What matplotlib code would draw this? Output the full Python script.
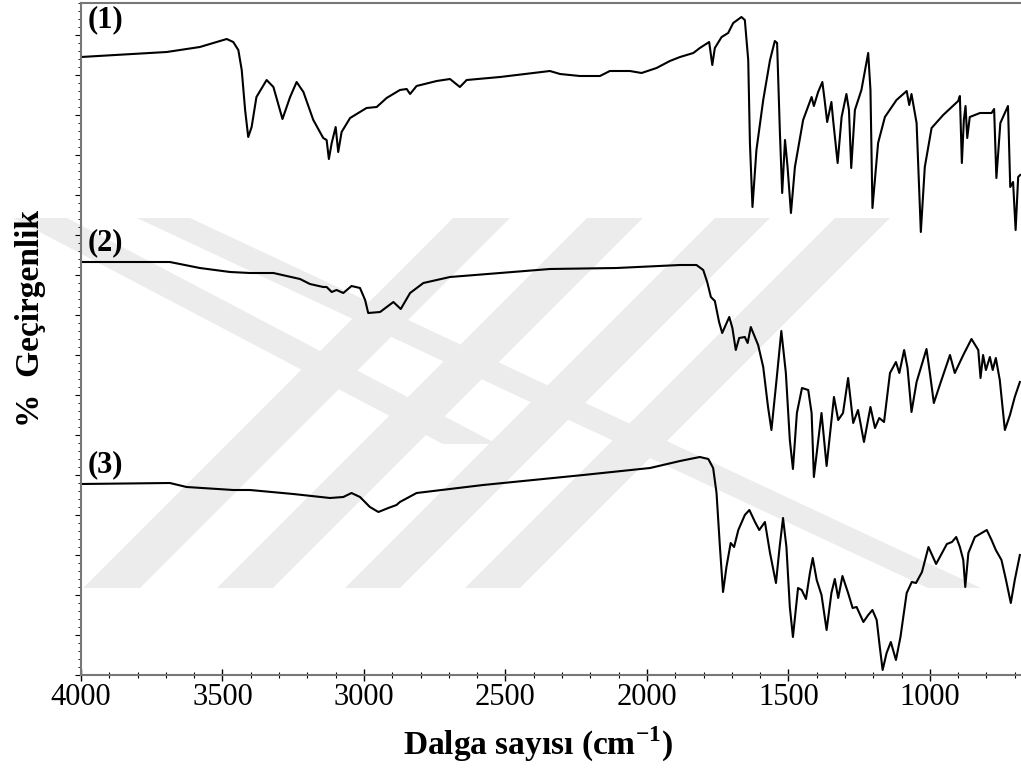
import numpy as np
import matplotlib
matplotlib.use("Agg")
import matplotlib.pyplot as plt
from matplotlib.ticker import MultipleLocator
from matplotlib.patches import Polygon

### FT-IR spectra of three samples, stacked with an offset.
### Values (offset transmittance, arbitrary units).

plt.rcParams['font.family'] = ['Liberation Serif', 'DejaVu Serif']
plt.rcParams['mathtext.fontset'] = 'custom'
plt.rcParams['mathtext.rm'] = 'Liberation Serif'
plt.rcParams['mathtext.bf'] = 'Liberation Serif:bold'

#### Spectrum (1) ####
wn1 = [4000, 3697, 3580, 3485, 3462, 3444, 3432, 3420, 3409, 3397, 3380, 3344,
       3320, 3288, 3261, 3238, 3214, 3179, 3144, 3132, 3124, 3114, 3100, 3091,
       3079, 3049, 2991, 2955, 2920, 2873, 2849, 2837, 2814, 2743, 2696, 2661,
       2637, 2519, 2343, 2307, 2237, 2166, 2131, 2060, 2019, 1966, 1919, 1883,
       1836, 1813, 1780, 1769, 1760, 1736, 1713, 1695, 1666, 1654, 1642, 1636,
       1627, 1613, 1589, 1565, 1548, 1540, 1530, 1522, 1512, 1503, 1491, 1477,
       1448, 1418, 1410, 1395, 1380, 1372, 1363, 1348, 1342, 1326, 1312, 1295,
       1286, 1278, 1265, 1242, 1218, 1210, 1203, 1183, 1159, 1118, 1082, 1073,
       1065, 1047, 1032, 1018, 994, 953, 900, 894, 887, 880, 874, 868, 859, 823,
       782, 773, 765, 751, 724, 716, 706, 697, 688, 681]
t1 = [618, 623, 628, 636, 633, 625, 605, 565, 538, 548, 578, 595,
      588, 556, 578, 593, 583, 555, 537, 535, 516, 532, 548, 523,
      543, 557, 567, 568, 577, 585, 586, 581, 589, 594, 596, 588,
      595, 598, 604, 601, 599, 599, 604, 604, 602, 607, 614, 618,
      622, 627, 633, 610, 627, 638, 642, 652, 658, 655, 615, 532,
      468, 525, 575, 615, 634, 632, 542, 482, 535, 508, 462, 508,
      555, 578, 569, 583, 593, 575, 553, 573, 555, 512, 558, 581,
      565, 507, 565, 585, 622, 585, 467, 532, 558, 575, 584, 570,
      581, 552, 443, 508, 547, 560, 574, 579, 512, 555, 569, 537, 558, 562,
      562, 566, 497, 552, 569, 488, 493, 445, 498, 500]

#### Spectrum (2) ####
wn2 = [4000, 3686, 3580, 3473, 3403, 3320, 3226, 3191, 3144, 3132, 3114, 3097,
       3073, 3044, 3014, 2996, 2985, 2943, 2896, 2870, 2837, 2790, 2696, 2519,
       2343, 2107, 1883, 1825, 1801, 1787, 1774, 1760, 1745, 1734, 1709, 1698,
       1686, 1674, 1654, 1644, 1633, 1607, 1589, 1572, 1560, 1542, 1525, 1509,
       1495, 1484, 1470, 1452, 1430, 1418, 1410, 1383, 1365, 1339, 1324, 1307,
       1289, 1271, 1254, 1233, 1210, 1194, 1179, 1162, 1141, 1120, 1108, 1091,
       1079, 1065, 1047, 1012, 1000, 986, 965, 929, 912, 882, 853, 829, 821,
       812, 802, 788, 778, 767, 753, 735, 717, 700, 682]
t2 = [413, 413, 407, 403, 402, 402, 396, 391, 388, 388, 383, 385,
      382, 389, 387, 375, 362, 363, 373, 366, 382, 392, 398, 402,
      406, 407, 410, 410, 405, 393, 378, 374, 353, 342, 358, 347,
      325, 337, 338, 332, 348, 330, 308, 268, 245, 295, 344, 302,
      235, 206, 262, 287, 285, 262, 198, 262, 209, 278, 255, 262,
      297, 252, 265, 233, 268, 247, 257, 253, 302, 313, 302, 325,
      307, 263, 293, 326, 302, 272, 290, 320, 302, 320, 336, 325, 297,
      320, 305, 318, 305, 317, 295, 245, 260, 278, 293]

#### Spectrum (3) ####
wn3 = [4000, 3686, 3627, 3462, 3403, 3250, 3120, 3073, 3044, 3014, 2979, 2949,
       2914, 2885, 2873, 2814, 2579, 2225, 1989, 1883, 1813, 1783, 1766, 1754,
       1742, 1731, 1719, 1704, 1692, 1677, 1654, 1638, 1618, 1603, 1583, 1565,
       1544, 1531, 1519, 1507, 1495, 1484, 1466, 1453, 1438, 1424, 1414, 1400,
       1383, 1365, 1348, 1336, 1324, 1309, 1289, 1273, 1259, 1235, 1218, 1203,
       1188, 1177, 1167, 1153, 1138, 1120, 1104, 1082, 1064, 1049, 1028, 1005,
       978, 940, 922, 907, 894, 882, 875, 864, 841, 799, 782, 767, 747, 731,
       714, 700, 682]
t3 = [191, 192, 188, 185, 185, 181, 177, 178, 182, 178, 168, 163,
      167, 170, 173, 182, 190, 200, 207, 214, 218, 216, 207, 182,
      128, 83, 108, 132, 128, 145, 160, 165, 153, 145, 153, 122,
      92, 128, 157, 128, 68, 38, 87, 85, 76, 102, 117, 95,
      80, 45, 82, 96, 77, 99, 82, 67, 68, 53, 60, 65,
      55, 28, 5, 22, 33, 15, 38, 82, 93, 92, 103, 128,
      111, 131, 133, 138, 128, 115, 88, 122, 138, 145, 135, 125, 115, 95,
      72, 95, 120]

spectra = [(wn1, t1, '(1)'), (wn2, t2, '(2)'), (wn3, t3, '(3)')]
label_y = [655, 432, 210]

W, H = 1021, 773
fig = plt.figure(figsize=(W/100, H/100), dpi=100)

# faint background watermark (pixel outlines, y measured from the top)
stripes = [
    [(453, 218), (510, 218), (140, 588), (83, 588)],
    [(587, 218), (643, 218), (273, 588), (217, 588)],
    [(715, 218), (770, 218), (400, 588), (345, 588)],
    [(835, 218), (890, 218), (520, 588), (465, 588)],
    [(13, 218), (67, 218), (497, 444), (443, 444)],
    [(137, 218), (190, 218), (981, 588), (928, 588)],
]
for pts in stripes:
    fig.patches.append(Polygon([(x/W, 1 - y/H) for x, y in pts], closed=True,
                               transform=fig.transFigure, facecolor='#ececec',
                               edgecolor='none', zorder=-1))

ax = fig.add_axes([81/W, 1 - 675/H, 940/W, 672/H])
ax.set_zorder(2)
ax.patch.set_alpha(0)

for (wn, t, name), ly in zip(spectra, label_y):
    ax.plot(wn, t, color='black', lw=1.5)
    ax.text(3975, ly, name, fontsize=22, fontweight='bold', ha='left', va='center')

ax.set_xlim(4000, 678)
ax.set_ylim(0, 672)

ax.xaxis.set_major_locator(MultipleLocator(500))
ax.xaxis.set_minor_locator(MultipleLocator(100))
ax.yaxis.set_major_locator(MultipleLocator(40))
ax.yaxis.set_minor_locator(MultipleLocator(8))
ax.set_yticklabels([])
ax.tick_params(axis='x', which='major', direction='inout', length=8, width=1, labelsize=22, pad=2)
ax.tick_params(axis='x', which='minor', direction='inout', length=5, width=0.8)
ax.tick_params(axis='y', which='major', direction='out', length=4, width=0.8)
ax.tick_params(axis='y', which='minor', direction='out', length=2, width=0.6)

for side in ['top', 'left', 'bottom']:
    ax.spines[side].set_color('#777777')
    ax.spines[side].set_linewidth(1.5)
ax.spines['right'].set_visible(False)

ax.set_xlabel(r'Dalga sayısı (cm$^{\mathbf{-1}}$)', fontsize=24, fontweight='bold', va='center')
ax.xaxis.set_label_coords(0.486, -0.104)
ax.set_ylabel('%  Geçirgenlik', fontsize=24, fontweight='bold', va='center', ha='center')
ax.yaxis.set_label_coords(-0.054, 0.531)

fig.savefig('out.png', dpi=100)
